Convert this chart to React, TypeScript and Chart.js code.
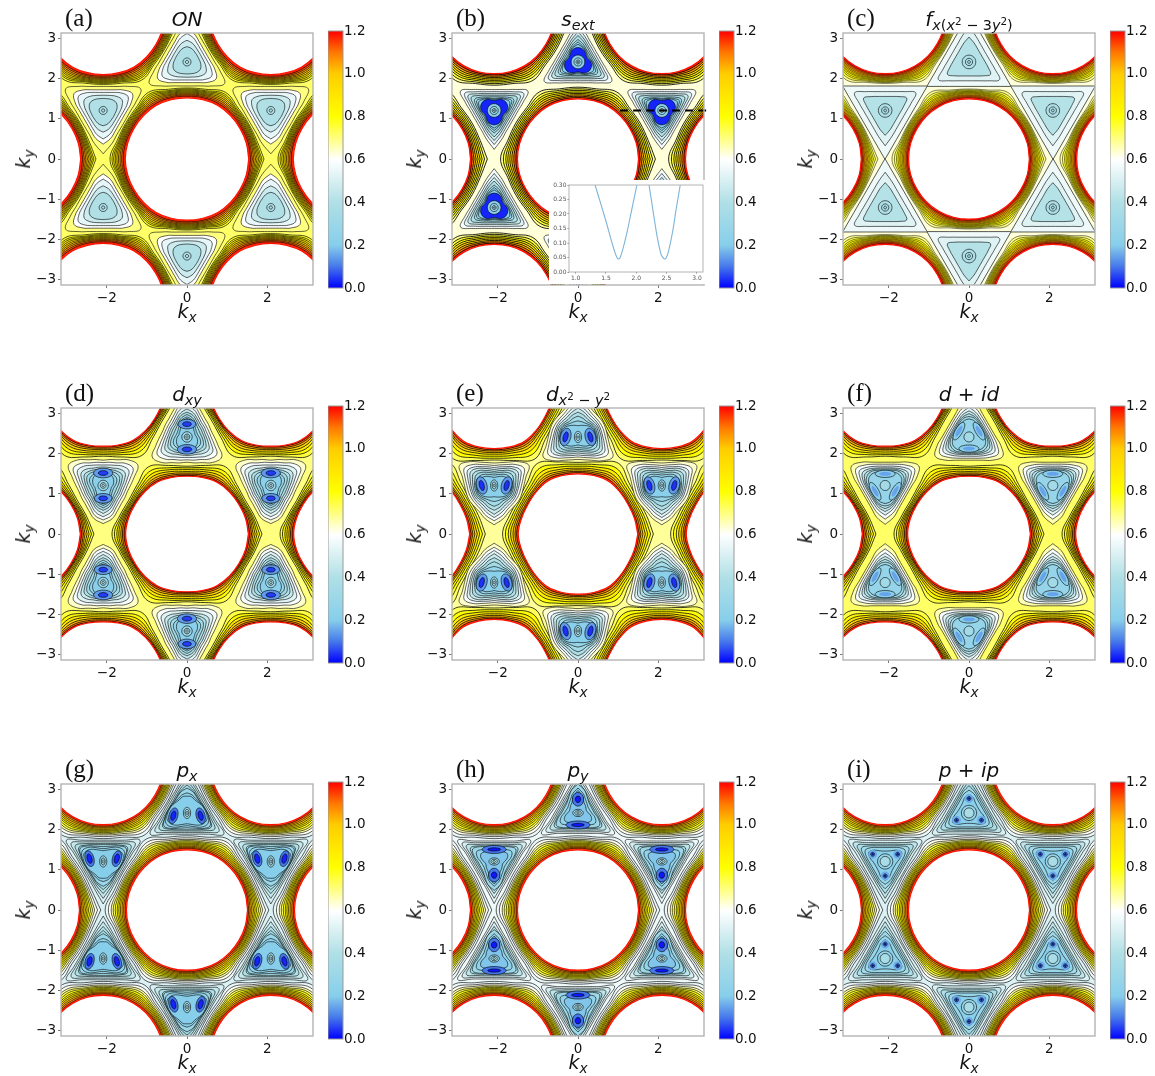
import React, { useEffect, useRef } from "react";
import { Chart, registerables } from "chart.js";

Chart.register(...registerables);

// ---- axis ticks ----
const xTickValues = [-2, 0, 2];
const yTickValues = [-3, -2, -1, 0, 1, 2, 3];
const barTickValues = [0, 0.2, 0.4, 0.6, 0.8, 1.0, 1.2];
const insetXTicks = [1.0, 1.5, 2.0, 2.5, 3.0];
const insetYTicks = [0, 0.05, 0.1, 0.15, 0.2, 0.25, 0.3];

// ---- colour scale: value -> rgb ----
const scaleValues = [0, 0.1, 0.2, 0.4, 0.6, 0.8, 1.0, 1.1, 1.2];
const scaleColors = [
  [0, 0, 255], [70, 120, 235], [135, 206, 235], [176, 224, 230],
  [255, 255, 255], [255, 255, 0], [255, 205, 0], [255, 120, 0], [255, 0, 0],
];

// ---- lattice: gap-free holes and pockets ----
const holeCentres = [[0, 0], [4.19, 0], [-4.19, 0], [2.09, 3.63], [-2.09, 3.63], [2.09, -3.63], [-2.09, -3.63]];
const pocketCentres = [
  [0, 2.42, 1], [0, -2.42, -1], [2.09, 1.21, -1], [-2.09, 1.21, -1], [2.09, -1.21, 1], [-2.09, -1.21, 1],
  [4.19, 2.42, 1], [-4.19, 2.42, 1], [4.19, -2.42, -1], [-4.19, -2.42, -1],
];

// ---- contours round the holes: [level, radius at 0,15,30 deg] or [level, radius at 0..90 deg by 15] ----
const holeA = [
  [0.74, 1.92, 1.80, 1.77], [0.79, 1.87, 1.765, 1.745], [0.84, 1.83, 1.74, 1.72], [0.89, 1.79, 1.715, 1.695],
  [0.94, 1.75, 1.69, 1.67], [0.99, 1.71, 1.665, 1.645], [1.04, 1.67, 1.64, 1.62], [1.09, 1.63, 1.61, 1.595],
  [1.14, 1.59, 1.58, 1.565], [1.2, 1.54, 1.53, 1.525],
];
const holeB = [
  [0.66, 1.93, 1.81, 1.79], [0.72, 1.86, 1.77, 1.75], [0.79, 1.80, 1.73, 1.71], [0.86, 1.75, 1.69, 1.67],
  [0.93, 1.70, 1.65, 1.635], [1.0, 1.65, 1.61, 1.60], [1.07, 1.60, 1.575, 1.565], [1.14, 1.55, 1.54, 1.53],
  [1.2, 1.51, 1.505, 1.50],
];
const kagomeC = [0.6, 2.09, 1.874, 1.81];
const holeC = [
  [0.66, 1.92, 1.78, 1.745], [0.71, 1.86, 1.75, 1.725], [0.76, 1.81, 1.725, 1.705], [0.81, 1.77, 1.70, 1.685],
  [0.86, 1.73, 1.68, 1.665], [0.91, 1.70, 1.655, 1.645], [0.96, 1.665, 1.635, 1.625], [1.01, 1.635, 1.61, 1.60],
  [1.06, 1.60, 1.585, 1.58], [1.11, 1.565, 1.56, 1.555], [1.16, 1.535, 1.53, 1.53], [1.2, 1.505, 1.505, 1.50],
];
const holeD = [
  [0.72, 1.87, 1.74, 1.68, 1.75, 1.93, 1.77, 1.69], [0.79, 1.81, 1.70, 1.64, 1.70, 1.82, 1.71, 1.65],
  [0.86, 1.75, 1.67, 1.61, 1.65, 1.74, 1.66, 1.61], [0.93, 1.70, 1.64, 1.58, 1.61, 1.67, 1.61, 1.56],
  [1.0, 1.65, 1.61, 1.55, 1.57, 1.61, 1.56, 1.52], [1.07, 1.61, 1.58, 1.53, 1.54, 1.56, 1.52, 1.49],
  [1.14, 1.57, 1.54, 1.51, 1.51, 1.52, 1.48, 1.46], [1.2, 1.53, 1.51, 1.49, 1.49, 1.49, 1.46, 1.44],
];
const holeE = [
  [0.70, 1.88, 1.77, 1.72, 1.80, 2.03, 1.86, 1.785], [0.77, 1.81, 1.71, 1.67, 1.73, 1.90, 1.79, 1.74],
  [0.84, 1.74, 1.66, 1.62, 1.67, 1.80, 1.73, 1.69], [0.91, 1.68, 1.61, 1.58, 1.62, 1.72, 1.67, 1.64],
  [0.98, 1.62, 1.57, 1.54, 1.57, 1.66, 1.62, 1.60], [1.05, 1.57, 1.53, 1.50, 1.54, 1.61, 1.58, 1.56],
  [1.12, 1.53, 1.49, 1.47, 1.50, 1.56, 1.54, 1.53], [1.2, 1.49, 1.46, 1.45, 1.48, 1.52, 1.51, 1.50],
];
const holeG = [
  [0.52, 2.04, 1.88, 1.85], [0.58, 1.96, 1.83, 1.80], [0.64, 1.89, 1.79, 1.76], [0.70, 1.84, 1.75, 1.73],
  [0.76, 1.79, 1.72, 1.70], [0.82, 1.74, 1.69, 1.67], [0.88, 1.70, 1.66, 1.645], [0.94, 1.66, 1.63, 1.62],
  [1.0, 1.62, 1.60, 1.59], [1.06, 1.58, 1.57, 1.565], [1.12, 1.54, 1.54, 1.54], [1.2, 1.51, 1.505, 1.50],
];

// ---- contours in the pockets: [level, dx, dy, copies, tilt, ...radii] ----
// 1 radius = ring, 2 = ellipse, 5 = three-fold (vertex to edge), 13 = mirrored (top to bottom)
// negative copies = shading only, no contour line
const pocketA = [
  [0.70, 0, 0, 1, 0, 1.08, 0.85, 0.69, 0.62, 0.60], [0.60, 0, 0, 1, 0, 0.84, 0.72, 0.595, 0.533, 0.515],
  [0.54, 0, 0, 1, 0, 0.71, 0.62, 0.52, 0.466, 0.45], [0.47, 0, 0, 1, 0, 0.54, 0.49, 0.43, 0.39, 0.38],
  [0.40, 0, 0, 1, 0, 0.38, 0.36, 0.33, 0.305, 0.30],
  [0.39, 0, 0, 1, 0, 0.10], [0.38, 0, 0, 1, 0, 0.04],
];
const pocketB = [
  [0.58, 0, 0, 1, 0, 0.97, 0.74, 0.60, 0.54, 0.52], [0.52, 0, 0, 1, 0, 0.85, 0.66, 0.54, 0.485, 0.47],
  [0.46, 0, 0, 1, 0, 0.75, 0.59, 0.485, 0.435, 0.42], [0.40, 0, 0, 1, 0, 0.66, 0.53, 0.44, 0.393, 0.38],
  [0.34, 0, 0, 1, 0, 0.56, 0.47, 0.39, 0.352, 0.34], [0.28, 0, 0, 1, 0, 0.50, 0.42, 0.36, 0.315, 0.30],
  [0.20, 0, 0, 1, 0, 0.44, 0.39, 0.345, 0.295, 0.27], [0.03, 0, 0, 1, 0, 0.36, 0.35, 0.32, 0.27, 0.25],
  [0.22, 0, 0, 1, 0, 0.17], [0.28, 0, 0, 1, 0, 0.10], [0.32, 0, 0, 1, 0, 0.05], [0.34, 0, 0, 1, 0, 0.02],
];
const pocketC = [
  [0.52, 0, 0, 1, 0, 0.88, 0.665, 0.543, 0.487, 0.47], [0.41, 0, 0, 1, 0, 0.62, 0.49, 0.404, 0.362, 0.35],
  [0.39, 0, 0, 1, 0, 0.17], [0.38, 0, 0, 1, 0, 0.09], [0.37, 0, 0, 1, 0, 0.035],
];
const pocketD = [
  [0.64, 0, 0, 1, 0, 0.95, 0.86, 0.72, 0.64, 0.62, 0.62, 0.68, 0.80, 1.0, 0.90, 0.74, 0.67, 0.63],
  [0.58, 0, 0, 1, 0, 0.86, 0.78, 0.64, 0.57, 0.55, 0.56, 0.60, 0.70, 0.86, 0.78, 0.65, 0.60, 0.57],
  [0.52, 0, 0, 1, 0, 0.78, 0.70, 0.58, 0.51, 0.50, 0.50, 0.54, 0.62, 0.74, 0.68, 0.58, 0.53, 0.51],
  [0.46, 0, 0, 1, 0, 0.70, 0.62, 0.52, 0.46, 0.45, 0.45, 0.48, 0.55, 0.63, 0.58, 0.50, 0.47, 0.46],
  [0.40, 0, 0, 1, 0, 0.62, 0.56, 0.47, 0.41, 0.40, 0.40, 0.43, 0.48, 0.54, 0.50, 0.45, 0.42, 0.41],
  [0.34, 0, 0, 1, 0, 0.56, 0.50, 0.42, 0.36, 0.34, 0.34, 0.37, 0.42, 0.46, 0.44, 0.40, 0.38, 0.38],
  [0.28, 0, 0, 1, 0, 0.50, 0.45, 0.36, 0.30, 0.27, 0.27, 0.30, 0.35, 0.38, 0.37, 0.36, 0.36, 0.36],
  [0.22, 0, 0, 1, 0, 0.46, 0.41, 0.31, 0.24, 0.22, 0.21, 0.24, 0.27, 0.30, 0.32, 0.33, 0.34, 0.34],
  [0.14, 0, 0.32, 1, 0, 0.22, 0.12], [0.05, 0, 0.32, 1, 0, 0.11, 0.06],
  [0.14, 0, -0.31, 1, 0, 0.24, 0.12], [0.05, 0, -0.31, 1, 0, 0.12, 0.06],
  [0.30, 0, 0, 1, 0, 0.13], [0.36, 0, 0, 1, 0, 0.07], [0.40, 0, 0, 1, 0, 0.03],
];
const pocketE = [
  [0.64, 0, 0, 1, 0, 0.98, 0.86, 0.75, 0.72, 0.72, 0.72, 0.74, 0.82, 1.0, 0.84, 0.67, 0.59, 0.56],
  [0.58, 0, 0, 1, 0, 0.88, 0.78, 0.68, 0.65, 0.65, 0.66, 0.68, 0.75, 0.86, 0.74, 0.60, 0.53, 0.50],
  [0.52, 0, 0, 1, 0, 0.80, 0.70, 0.62, 0.60, 0.60, 0.60, 0.62, 0.68, 0.76, 0.66, 0.54, 0.48, 0.45],
  [0.46, 0, 0, 1, 0, 0.72, 0.63, 0.56, 0.55, 0.56, 0.56, 0.58, 0.62, 0.68, 0.60, 0.49, 0.43, 0.40],
  [0.40, 0, 0, 1, 0, 0.62, 0.56, 0.50, 0.50, 0.52, 0.52, 0.53, 0.56, 0.60, 0.53, 0.43, 0.38, 0.35],
  [0.34, 0, 0, 1, 0, 0.52, 0.48, 0.44, 0.46, 0.48, 0.48, 0.49, 0.50, 0.52, 0.46, 0.38, 0.33, 0.31],
  [0.28, 0, 0, 1, 0, 0.40, 0.39, 0.39, 0.42, 0.45, 0.45, 0.46, 0.46, 0.44, 0.39, 0.32, 0.28, 0.26],
  [0.22, 0, 0, 1, 0, 0.28, 0.30, 0.33, 0.38, 0.42, 0.43, 0.43, 0.41, 0.37, 0.32, 0.26, 0.22, 0.20],
  [0.14, 0.31, 0, 2, 15, 0.13, 0.22], [0.04, 0.31, 0, 2, 15, 0.06, 0.13],
  [0.30, 0, 0, 1, 0, 0.09, 0.14], [0.36, 0, 0, 1, 0, 0.05, 0.09], [0.40, 0, 0, 1, 0, 0.025, 0.03],
];
const pocketF = [
  [0.66, 0, 0, 1, 0, 0.97, 0.82, 0.67, 0.60, 0.58], [0.58, 0, 0, 1, 0, 0.84, 0.72, 0.61, 0.55, 0.53],
  [0.52, 0, 0, 1, 0, 0.74, 0.64, 0.55, 0.50, 0.48], [0.46, 0, 0, 1, 0, 0.65, 0.58, 0.50, 0.455, 0.44],
  [0.40, 0, 0, 1, 0, 0.58, 0.53, 0.47, 0.425, 0.41], [0.34, 0, 0, 1, 0, 0.51, 0.49, 0.435, 0.395, 0.38],
  [0.27, 0, 0, 1, 0, 0.45, 0.43, 0.39, 0.355, 0.34],
  [0.22, 0, -0.29, 3, 0, 0.25, 0.09], [0.15, 0, -0.29, -3, 0, 0.15, 0.05], [0.33, 0, 0, 1, 0, 0.125],
];
const pocketG = [
  [0.50, 0, 0, 1, 0, 1.06, 0.75, 0.61, 0.55, 0.53], [0.45, 0, 0, 1, 0, 0.92, 0.69, 0.565, 0.507, 0.49],
  [0.40, 0, 0, 1, 0, 0.80, 0.63, 0.52, 0.466, 0.45], [0.35, 0, 0, 1, 0, 0.70, 0.58, 0.485, 0.435, 0.42],
  [0.30, 0, 0, 1, 0, 0.62, 0.55, 0.47, 0.43, 0.43, 0.45, 0.50, 0.58, 0.66, 0.55, 0.44, 0.39, 0.37],
  [0.25, 0, 0, 1, 0, 0.50, 0.47, 0.42, 0.41, 0.42, 0.45, 0.50, 0.56, 0.58, 0.50, 0.40, 0.34, 0.32],
  [0.20, 0, 0, 1, 0, 0.42, 0.42, 0.38, 0.38, 0.41, 0.44, 0.48, 0.52, 0.50, 0.43, 0.34, 0.29, 0.27],
  [0.10, 0.34, -0.07, 2, 15, 0.11, 0.20], [0.03, 0.34, -0.07, 2, 15, 0.06, 0.12],
  [0.30, 0, 0, 1, 0, 0.09, 0.14], [0.36, 0, 0, 1, 0, 0.05, 0.09], [0.40, 0, 0, 1, 0, 0.025, 0.04],
];
const pocketH = [
  [0.55, 0, 0, 1, 0, 1.05, 0.72, 0.59, 0.528, 0.51], [0.49, 0, 0, 1, 0, 0.92, 0.66, 0.543, 0.487, 0.47],
  [0.43, 0, 0, 1, 0, 0.80, 0.60, 0.497, 0.445, 0.43], [0.37, 0, 0, 1, 0, 0.68, 0.55, 0.45, 0.404, 0.39],
  [0.31, 0, 0, 1, 0, 0.72, 0.60, 0.46, 0.38, 0.36, 0.37, 0.41, 0.52, 0.62, 0.52, 0.42, 0.37, 0.35],
  [0.25, 0, 0, 1, 0, 0.62, 0.50, 0.38, 0.32, 0.29, 0.30, 0.34, 0.44, 0.50, 0.42, 0.34, 0.32, 0.31],
  [0.19, 0, 0, 1, 0, 0.56, 0.44, 0.30, 0.26, 0.23, 0.22, 0.26, 0.34, 0.38, 0.34, 0.30, 0.28, 0.28],
  [0.10, 0, 0.34, 1, 0, 0.14, 0.17], [0.02, 0, 0.34, 1, 0, 0.07, 0.08],
  [0.10, 0, -0.30, 1, 0, 0.30, 0.10], [0.02, 0, -0.30, 1, 0, 0.16, 0.04],
  [0.30, 0, 0, 1, 0, 0.13, 0.09], [0.36, 0, 0, 1, 0, 0.08, 0.055], [0.40, 0, 0, 1, 0, 0.03, 0.025],
];
const pocketI = [
  [0.50, 0, 0, 1, 0, 1.05, 0.75, 0.61, 0.55, 0.53], [0.44, 0, 0, 1, 0, 0.92, 0.665, 0.543, 0.487, 0.47],
  [0.38, 0, 0, 1, 0, 0.80, 0.60, 0.497, 0.445, 0.43], [0.33, 0, 0, 1, 0, 0.68, 0.55, 0.45, 0.404, 0.39],
  [0.28, 0, 0, 1, 0, 0.57, 0.49, 0.404, 0.362, 0.35], [0.22, 0, 0, 1, 0, 0.47, 0.40, 0.31, 0.27, 0.26],
  [0.16, 0, 0.36, -3, 0, 0.11], [0.10, 0, 0.36, 3, 0, 0.05], [0.03, 0, 0.36, 3, 0, 0.022],
  [0.27, 0, 0, 1, 0, 0.19], [0.36, 0, 0, 1, 0, 0.125],
];

// ---- dashed cut in (b) and inset curve ----
const cutX = [1.05, 3.31];
const cutY = [1.21, 1.21];
const insetX = [1.30, 1.32, 1.40, 1.50, 1.60, 1.66, 1.69, 1.71, 1.73, 1.78, 1.85, 1.93, 2.01, 2.03, null,
  2.19, 2.21, 2.28, 2.35, 2.41, 2.45, 2.47, 2.49, 2.53, 2.60, 2.66, 2.725, 2.74];
const insetY = [0.315, 0.30, 0.245, 0.175, 0.10, 0.06, 0.047, 0.045, 0.048, 0.08, 0.14, 0.22, 0.30, 0.32, null,
  0.32, 0.30, 0.205, 0.115, 0.06, 0.047, 0.045, 0.047, 0.07, 0.14, 0.22, 0.30, 0.32];

// ---- helpers ----
function colourOf(v: number): string {
  let i = 0;
  while (i < scaleValues.length - 2 && v > scaleValues[i + 1]) i++;
  const t = Math.min(1, Math.max(0, (v - scaleValues[i]) / (scaleValues[i + 1] - scaleValues[i])));
  const c = scaleColors[i].map((a, k) => Math.round(a + (scaleColors[i + 1][k] - a) * t));
  return `rgb(${c[0]},${c[1]},${c[2]})`;
}

const GAP = { x: null as any, y: null as any };
const rad = (d: number) => (d * Math.PI) / 180;

function holeRing(r: number[]) {
  const pts: { x: number; y: number }[] = [];
  for (let i = 0; i < 24; i++) {
    let val: number;
    if (r.length === 3) {
      const q = i % 4;
      val = r[q === 3 ? 1 : q];
    } else {
      const q = i % 12;
      val = r[q <= 6 ? q : 12 - q];
    }
    pts.push({ x: val * Math.cos(rad(i * 15)), y: val * Math.sin(rad(i * 15)) });
  }
  pts.push(pts[0]);
  return pts;
}

function pocketRing(r: number[]) {
  const pts: { x: number; y: number }[] = [];
  if (r.length <= 2) {
    const a = r[0];
    const b = r.length === 2 ? r[1] : r[0];
    for (let i = 0; i < 16; i++) pts.push({ x: a * Math.cos(rad(i * 22.5)), y: b * Math.sin(rad(i * 22.5)) });
  } else {
    for (let i = 0; i < 24; i++) {
      let val: number;
      if (r.length === 5) {
        const q = i % 8;
        val = r[q <= 4 ? q : 8 - q];
      } else {
        val = r[i <= 12 ? i : 24 - i];
      }
      pts.push({ x: val * Math.cos(rad(90 - i * 15)), y: val * Math.sin(rad(90 - i * 15)) });
    }
  }
  pts.push(pts[0]);
  return pts;
}

function level(points: any[], fillColour: string, line: string, width: number, tension = 0.4) {
  return {
    data: points,
    showLine: true,
    fill: "shape",
    backgroundColor: fillColour,
    borderColor: line,
    borderWidth: width,
    pointRadius: 0,
    tension,
    spanGaps: false,
  };
}

const POCKET_LINE = "rgba(0,0,0,0.72)";

function buildDatasets(holes: number[][], pockets: number[][], bg: number, kagome: number[] | undefined, holeWidth: number, holeAlpha: number) {
  const sets: any[] = [];
  const holeLine = `rgba(0,0,0,${holeAlpha})`;
  const L = Math.PI + 0.2;
  sets.push(level([{ x: -L, y: -L }, { x: L, y: -L }, { x: L, y: L }, { x: -L, y: L }, { x: -L, y: -L }], colourOf(bg), "rgba(0,0,0,0)", 0, 0));
  const holeLevel = (row: number[], tension: number, line: string, width: number) => {
    const ring = holeRing(row.slice(1));
    const pts: any[] = [];
    holeCentres.forEach(([cx, cy]) => {
      ring.forEach((p) => pts.push({ x: p.x + cx, y: p.y + cy }));
      pts.push(GAP);
    });
    const top = row[0] >= 1.2;
    sets.push(level(pts, top ? "#ffffff" : colourOf(row[0] + 0.03), top ? "#ff1000" : line, top ? 1.2 : width, tension));
  };
  if (kagome) holeLevel(kagome, 0, POCKET_LINE, 0.9);
  holes.forEach((row) => holeLevel(row, 0.4, holeLine, holeWidth));
  pockets.forEach((row) => {
    const [v, dx, dy, signedCopies, tilt, ...r] = row;
    const copies = Math.abs(signedCopies);
    const ring = pocketRing(r);
    const pts: any[] = [];
    pocketCentres.forEach(([kx, ky, s]) => {
      for (let c = 0; c < copies; c++) {
        const mirror = copies === 2 && c === 1 ? -1 : 1;
        const turn = copies === 3 ? rad(120 * c) : 0;
        const t = rad(tilt) * mirror;
        ring.forEach((p) => {
          const ax = p.x * Math.cos(t) - p.y * Math.sin(t) + dx * mirror;
          const ay = p.x * Math.sin(t) + p.y * Math.cos(t) + dy;
          const bx = ax * Math.cos(turn) - ay * Math.sin(turn);
          const by = ax * Math.sin(turn) + ay * Math.cos(turn);
          pts.push({ x: kx + bx, y: ky + s * by });
        });
        pts.push(GAP);
      }
    });
    sets.push(level(pts, colourOf(v), signedCopies < 0 ? "rgba(0,0,0,0)" : POCKET_LINE, signedCopies < 0 ? 0 : 0.85));
  });
  return sets.reverse();
}

const frame = (color: string, lw: number) => ({
  id: "frame",
  afterDraw(chart: any) {
    const { ctx, chartArea: a } = chart;
    ctx.save();
    ctx.strokeStyle = color;
    ctx.lineWidth = lw;
    ctx.strokeRect(a.left, a.top, a.right - a.left, a.bottom - a.top);
    ctx.restore();
  },
});

const FONT = "'DejaVu Sans'";
const minus = (v: any) => String(v).replace("-", "\u2212");

function PanelChart({ left, top, holes, pockets, bg, kagome, cut, holeWidth, holeAlpha }: any) {
  const ref = useRef<HTMLCanvasElement>(null);
  useEffect(() => {
    const datasets = buildDatasets(holes, pockets, bg, kagome, holeWidth, holeAlpha);
    if (cut) {
      datasets.unshift({
        data: cutX.map((x, i) => ({ x, y: cutY[i] })),
        showLine: true,
        borderColor: "#000",
        borderWidth: 2,
        borderDash: [8, 5],
        pointRadius: 0,
        fill: false,
        clip: false,
      });
    }
    const tickGrid = { display: true, drawOnChartArea: false, drawTicks: true, tickLength: 3, color: "#777" };
    const chart = new Chart(ref.current as any, {
      type: "scatter",
      data: { datasets },
      options: {
        animation: false,
        responsive: false,
        events: [],
        layout: { autoPadding: false, padding: { left: 0, top: 12, right: 12, bottom: 0 } },
        elements: { line: { capBezierPoints: false } },
        plugins: { legend: { display: false }, tooltip: { enabled: false } },
        scales: {
          x: {
            type: "linear",
            min: -Math.PI,
            max: Math.PI,
            grid: tickGrid,
            border: { display: false },
            afterBuildTicks: (a: any) => { a.ticks = xTickValues.map((value) => ({ value })); },
            afterFit: (s: any) => { s.height = 24; },
            ticks: { color: "#111", font: { family: FONT, size: 13.5 }, padding: 2, maxRotation: 0, autoSkip: false, callback: minus },
          },
          y: {
            type: "linear",
            min: -Math.PI,
            max: Math.PI,
            grid: tickGrid,
            border: { display: false },
            afterBuildTicks: (a: any) => { a.ticks = yTickValues.map((value) => ({ value })); },
            afterFit: (s: any) => { s.width = 30; },
            ticks: { color: "#111", font: { family: FONT, size: 13.5 }, padding: 2, autoSkip: false, callback: minus },
          },
        },
      } as any,
      plugins: [frame("#b4b4b4", 1.4)],
    });
    return () => chart.destroy();
  }, []);
  return (
    <canvas ref={ref} width={294} height={288} style={{ position: "absolute", left: left - 30, top: top - 12, display: "block" }} />
  );
}

function ColourBar({ left, top }: any) {
  const ref = useRef<HTMLCanvasElement>(null);
  useEffect(() => {
    const chart = new Chart(ref.current as any, {
      type: "bar",
      data: {
        labels: [""],
        datasets: [{
          data: [[0, 1.2]] as any,
          categoryPercentage: 1,
          barPercentage: 1,
          backgroundColor: (c: any) => {
            const a = c.chart.chartArea;
            if (!a) return "#fff";
            const g = c.chart.ctx.createLinearGradient(0, a.bottom, 0, a.top);
            scaleValues.forEach((v, i) => {
              const k = scaleColors[i];
              g.addColorStop(v / 1.2, `rgb(${k[0]},${k[1]},${k[2]})`);
            });
            return g;
          },
        }],
      },
      options: {
        animation: false,
        responsive: false,
        events: [],
        layout: { autoPadding: false, padding: { left: 0, top: 12, right: 0, bottom: 12 } },
        plugins: { legend: { display: false }, tooltip: { enabled: false } },
        scales: {
          x: { display: false },
          y: {
            position: "right",
            min: 0,
            max: 1.2,
            grid: { display: false, drawTicks: false },
            border: { display: false },
            afterBuildTicks: (a: any) => { a.ticks = barTickValues.map((value) => ({ value })); },
            afterFit: (s: any) => { s.width = 27; },
            ticks: { color: "#111", font: { family: FONT, size: 13.5 }, padding: 1, callback: (v: any) => Number(v).toFixed(1) },
          },
        },
      } as any,
      plugins: [frame("#999", 1)],
    });
    return () => chart.destroy();
  }, []);
  return (
    <canvas ref={ref} width={42} height={281} style={{ position: "absolute", left, top: top - 12, display: "block" }} />
  );
}

function Inset() {
  const ref = useRef<HTMLCanvasElement>(null);
  useEffect(() => {
    const tickFont = { family: FONT, size: 6 };
    const grid = { display: true, drawOnChartArea: false, drawTicks: true, tickLength: 1.5, color: "#888" };
    const chart = new Chart(ref.current as any, {
      type: "scatter",
      data: {
        datasets: [{
          data: insetX.map((x, i) => ({ x, y: insetY[i] })),
          showLine: true,
          borderColor: "#7db4da",
          borderWidth: 1.1,
          pointRadius: 0,
          tension: 0.3,
          spanGaps: false,
        }],
      },
      options: {
        animation: false,
        responsive: false,
        events: [],
        layout: { autoPadding: false, padding: { left: 0, top: 5, right: 2, bottom: 0 } },
        elements: { line: { capBezierPoints: false } },
        plugins: { legend: { display: false }, tooltip: { enabled: false } },
        scales: {
          x: {
            type: "linear", min: 0.89, max: 3.1, grid, border: { display: false },
            afterBuildTicks: (a: any) => { a.ticks = insetXTicks.map((value) => ({ value })); },
            afterFit: (s: any) => { s.height = 12; },
            ticks: { color: "#555", font: tickFont, padding: 1, maxRotation: 0, autoSkip: false, callback: (v: any) => Number(v).toFixed(1) },
          },
          y: {
            type: "linear", min: 0, max: 0.3, grid, border: { display: false },
            afterBuildTicks: (a: any) => { a.ticks = insetYTicks.map((value) => ({ value })); },
            afterFit: (s: any) => { s.width = 20; },
            ticks: { color: "#555", font: tickFont, padding: 1, autoSkip: false, callback: (v: any) => Number(v).toFixed(2) },
          },
        },
      } as any,
      plugins: [
        {
          id: "whiteBack",
          beforeDraw(c: any) {
            c.ctx.save();
            c.ctx.fillStyle = "#fff";
            c.ctx.fillRect(0, 0, c.width, c.height);
            c.ctx.restore();
          },
        },
        frame("#b4b4b4", 1),
      ],
    });
    return () => chart.destroy();
  }, []);
  return <canvas ref={ref} width={156} height={104} style={{ position: "absolute", left: 549, top: 180, display: "block" }} />;
}

const subStyle: React.CSSProperties = { fontSize: "0.72em", lineHeight: 0, verticalAlign: "-0.3em" };
const Sub = ({ children }: any) => <span style={subStyle}>{children}</span>;
const Sup = ({ children }: any) => <span style={{ fontSize: "0.72em", lineHeight: 0, verticalAlign: "0.45em", fontStyle: "normal" }}>{children}</span>;

const columnLefts = [61, 452, 843];
const barLefts = [328, 719, 1110];
const rowTops = [33, 408, 784];

const panels = [
  { tag: "(a)", holes: holeA, pockets: pocketA, bg: 0.72, holeWidth: 0.85, holeAlpha: 0.8, title: <i>ON</i> },
  { tag: "(b)", holes: holeB, pockets: pocketB, bg: 0.63, holeWidth: 1, holeAlpha: 0.85, cut: true, title: <i>s<Sub>ext</Sub></i> },
  { tag: "(c)", holes: holeC, pockets: pocketC, bg: 0.56, holeWidth: 0.7, holeAlpha: 0.72, kagome: kagomeC, title: <i>f<Sub>x<span style={{ fontStyle: "normal" }}>(</span>x<Sup>2</Sup><span style={{ fontStyle: "normal" }}>{" \u2212 3"}</span>y<Sup>2</Sup><span style={{ fontStyle: "normal" }}>)</span></Sub></i> },
  { tag: "(d)", holes: holeD, pockets: pocketD, bg: 0.70, holeWidth: 0.9, holeAlpha: 0.85, title: <i>d<Sub>xy</Sub></i> },
  { tag: "(e)", holes: holeE, pockets: pocketE, bg: 0.68, holeWidth: 0.9, holeAlpha: 0.85, title: <i>d<Sub>x<Sup>2</Sup><span style={{ fontStyle: "normal" }}>{" \u2212 "}</span>y<Sup>2</Sup></Sub></i> },
  { tag: "(f)", holes: holeD, pockets: pocketF, bg: 0.72, holeWidth: 0.9, holeAlpha: 0.85, title: <i>d<span style={{ fontStyle: "normal" }}>{" + "}</span>id</i> },
  { tag: "(g)", holes: holeG, pockets: pocketG, bg: 0.51, holeWidth: 0.8, holeAlpha: 0.8, title: <i>p<Sub>x</Sub></i> },
  { tag: "(h)", holes: holeG, pockets: pocketH, bg: 0.56, holeWidth: 0.8, holeAlpha: 0.8, title: <i>p<Sub>y</Sub></i> },
  { tag: "(i)", holes: holeG, pockets: pocketI, bg: 0.51, holeWidth: 0.8, holeAlpha: 0.8, title: <i>p<span style={{ fontStyle: "normal" }}>{" + "}</span>ip</i> },
];

const textBase: React.CSSProperties = { position: "absolute", whiteSpace: "nowrap", fontFamily: "'DejaVu Sans'", color: "#111" };

export default function App() {
  return (
    <div style={{ position: "absolute", left: 0, top: 0, width: 1155, height: 1076, background: "#fff", overflow: "hidden" }}>
      {panels.map((p: any, i) => {
        const left = columnLefts[i % 3];
        const top = rowTops[Math.floor(i / 3)];
        return (
          <React.Fragment key={p.tag}>
            <PanelChart left={left} top={top} holes={p.holes} pockets={p.pockets} bg={p.bg} kagome={p.kagome} cut={p.cut} holeWidth={p.holeWidth} holeAlpha={p.holeAlpha} />
            <ColourBar left={barLefts[i % 3]} top={top - 2} />
            <div style={{ ...textBase, left: left + 126, top: top - 26, transform: "translateX(-50%)", fontSize: 20, lineHeight: "24px" }}>{p.title}</div>
            <div style={{ ...textBase, left: left + 4, top: top - 29, fontFamily: "'Liberation Serif'", fontSize: 25, lineHeight: "28px" }}>{p.tag}</div>
            <div style={{ ...textBase, left: left + 126, top: top + 266, transform: "translateX(-50%)", fontSize: 19, lineHeight: "24px" }}><i>k<Sub>x</Sub></i></div>
            <div style={{ ...textBase, left: left - 38, top: top + 126, transform: "translate(-50%,-50%) rotate(-90deg)", fontSize: 19, lineHeight: "24px" }}><i>k<Sub>y</Sub></i></div>
          </React.Fragment>
        );
      })}
      <Inset />
    </div>
  );
}
